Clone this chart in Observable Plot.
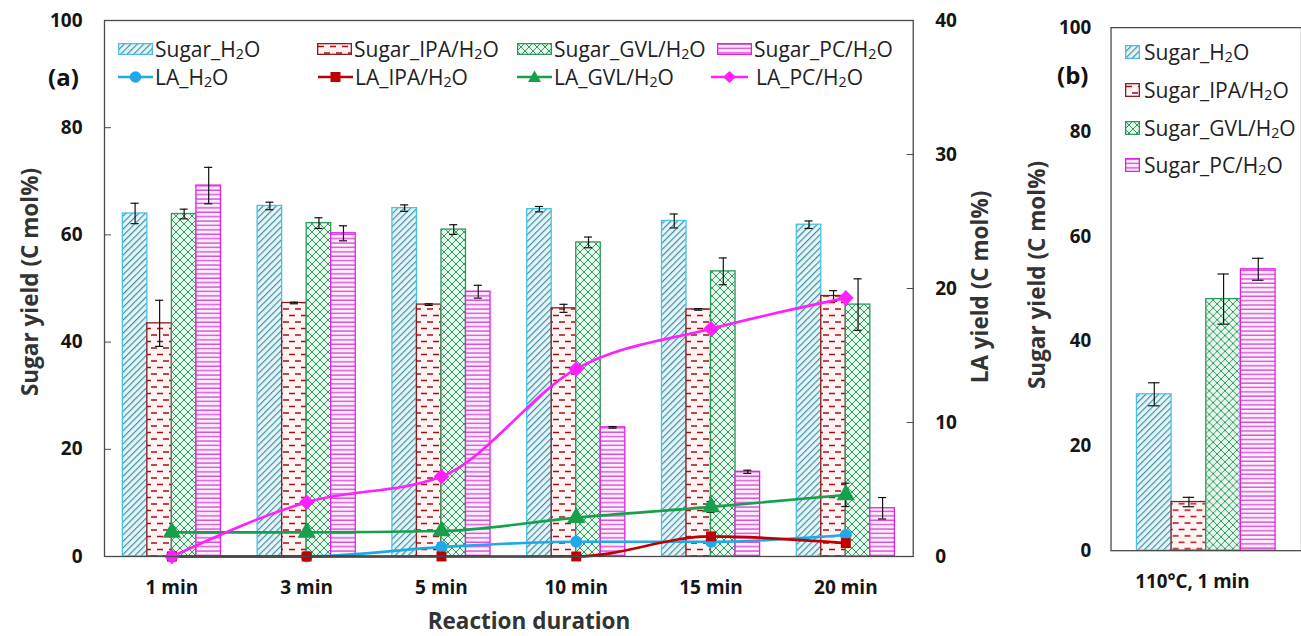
<!DOCTYPE html>
<html>
<head>
<meta charset="utf-8">
<script src="https://cdn.jsdelivr.net/npm/d3@7"></script>
<script src="https://cdn.jsdelivr.net/npm/@observablehq/plot@0.6"></script>
<style>
  html, body { margin: 0; padding: 0; background: #fff; }
  body { width: 1301px; height: 636px; overflow: hidden; position: relative; font-family: "Open Sans", sans-serif; }
  .abs { position: absolute; }
  .title { font-weight: bold; font-size: 22.5px; color: #333; white-space: nowrap; line-height: 24px; }
  .rot { transform: translate(-50%, -50%) rotate(-90deg); }
  .panel { font-weight: bold; font-size: 24px; color: #111; line-height: 30px; }
  .leg { font-size: 21px; color: #222; line-height: 28px; white-space: nowrap; }
  .leg sub { font-size: 0.68em; vertical-align: -0.15em; line-height: 0; }
</style>
</head>
<body>
<!-- fill patterns shared by the bars and the legend swatches -->
<svg width="0" height="0" style="position:absolute">
  <defs>
    <pattern id="fillH2O" patternUnits="userSpaceOnUse" width="4.6" height="4.6" patternTransform="rotate(45)">
      <rect width="4.6" height="4.6" fill="#e4f6fb"/>
      <line x1="0.6" y1="0" x2="0.6" y2="4.6" stroke="#3a8796" stroke-width="1.1"/>
    </pattern>
    <pattern id="fillIPA" patternUnits="userSpaceOnUse" width="12" height="13">
      <rect width="12" height="13" fill="#fff3f3"/>
      <path d="M1,3.5h6M7,10h6M-5,10h6" stroke="#a31212" stroke-width="1.4"/>
    </pattern>
    <pattern id="fillGVL" patternUnits="userSpaceOnUse" width="8" height="8">
      <rect width="8" height="8" fill="#e7f7ed"/>
      <path d="M0,0L8,8M8,0L0,8" stroke="#2f9a5c" stroke-width="1"/>
    </pattern>
    <pattern id="fillPC" patternUnits="userSpaceOnUse" width="4" height="4.4">
      <rect width="4" height="4.4" fill="#fdf1fd"/>
      <line x1="0" y1="1" x2="4" y2="1" stroke="#d11fd1" stroke-width="1.1"/>
    </pattern>
  </defs>
</svg>

<div id="chartA" class="abs" style="left:0;top:0"></div>
<div id="chartB" class="abs" style="left:1000px;top:0"></div>

<div class="abs panel" style="left:48px;top:62px">(a)</div>
<div class="abs panel" style="left:1057px;top:60px">(b)</div>
<div class="abs title rot" style="left:30px;top:282px">Sugar yield (C mol%)</div>
<div class="abs title rot" style="left:980px;top:287px">LA yield (C mol%)</div>
<div class="abs title rot" style="left:1037px;top:275px">Sugar yield (C mol%)</div>
<div class="abs title" style="left:529px;top:609px;transform:translateX(-50%)">Reaction duration</div>

<div id="legendA"></div>
<div id="legendB"></div>

<script>
// Reaction durations (panel a) and the single condition of panel b
const durations = ["1 min", "3 min", "5 min", "10 min", "15 min", "20 min"];
const conditionB = ["110°C, 1 min"];
const solvents = ["H2O", "IPA/H2O", "GVL/H2O", "PC/H2O"];

// Sugar yield, C mol% (left axis), with error bars
const sugarH2O = [64.0, 65.4, 65.0, 64.8, 62.6, 61.9];
const sugarIPA = [43.5, 47.3, 47.0, 46.3, 46.1, 48.6];
const sugarGVL = [63.9, 62.2, 61.0, 58.6, 53.2, 47.0];
const sugarPC  = [69.2, 60.3, 49.4, 24.1, 15.8, 9.0];
const errH2O = [1.9, 0.7, 0.6, 0.5, 1.3, 0.7];
const errIPA = [4.3, 0.15, 0.15, 0.75, 0.15, 1.0];
const errGVL = [0.9, 1.0, 0.9, 1.0, 2.5, 4.8];
const errPC  = [3.4, 1.4, 1.2, 0.15, 0.3, 2.0];

// LA yield, C mol% (right axis)
const laH2O = [0, 0, 0.7, 1.1, 1.1, 1.6];
const laIPA = [0, 0, 0, 0, 1.5, 1.0];
const laGVL = [1.8, 1.8, 1.9, 2.9, 3.7, 4.6];
const laPC  = [0, 4.05, 5.97, 14.0, 17.0, 19.3];
const laErrGVL = [0, 0, 0, 0, 0.4, 0.87];
const laErrH2O = [0, 0, 0.3, 0, 0, 0];

// Panel b: sugar yield at 110 °C, 1 min
const sugarB = [29.9, 9.3, 48.1, 53.8];
const errB   = [2.2, 0.9, 4.8, 2.1];

// Axis ticks
const sugarTicks = [0, 20, 40, 60, 80, 100];
const laTicks = [0, 10, 20, 30, 40];

// styling per solvent
const barFill   = ["url(#fillH2O)", "url(#fillIPA)", "url(#fillGVL)", "url(#fillPC)"];
const barStroke = ["#48c2e4", "#8e1b1b", "#2e9b5c", "#e21fe2"];
const lineColor = ["#1fa9e8", "#c00000", "#17a04c", "#ff1fff"];
const symbols   = ["circle", "square", "triangle", "diamond2"];
const symbolR   = [6, 5.6, 6.8, 7];

const sugarA = [sugarH2O, sugarIPA, sugarGVL, sugarPC];
const errA = [errH2O, errIPA, errGVL, errPC];
const laA = [laH2O, laIPA, laGVL, laPC];
const laErrA = [laErrH2O, [0, 0, 0, 0, 0, 0], laErrGVL, [0, 0, 0, 0, 0, 0]];

const LA_MAX = 40, SUGAR_MAX = 100;
const k = SUGAR_MAX / LA_MAX;   // LA values share the sugar y scale
const bw = 0.182;               // bar width in category units
const cap = 0.03;               // error bar cap half width

const bars = [];
durations.forEach((d, i) => solvents.forEach((s, j) => {
  bars.push({i, j, v: sugarA[j][i], e: errA[j][i], c: i + (j - 1.5) * bw});
}));
const laRows = solvents.map((s, j) => durations.map((d, i) => ({i, j, v: laA[j][i] * k, e: laErrA[j][i] * k})));
const laErrRows = laRows.flat().filter(d => d.e > 0);

const baseStyle = {fontFamily: "'Open Sans', sans-serif", fontSize: "19px", fontWeight: "bold", color: "#151515", background: "transparent", overflow: "visible"};

function errorBars(data, xf) {
  return [
    Plot.ruleX(data, {x: xf, y1: d => d.v - d.e, y2: d => d.v + d.e, stroke: "#111", strokeWidth: 1.2}),
    Plot.ruleY(data, {y: d => d.v + d.e, x1: d => xf(d) - cap, x2: d => xf(d) + cap, stroke: "#111", strokeWidth: 1.2}),
    Plot.ruleY(data, {y: d => d.v - d.e, x1: d => xf(d) - cap, x2: d => xf(d) + cap, stroke: "#111", strokeWidth: 1.2})
  ];
}

const chartA = Plot.plot({
  width: 1000, height: 636,
  marginLeft: 104, marginRight: 87.3, marginTop: 20, marginBottom: 80,
  x: {domain: [-0.5, durations.length - 0.5]},
  y: {domain: [0, SUGAR_MAX]},
  style: baseStyle,
  marks: [
    Plot.rect(bars, {x1: d => d.c - bw / 2, x2: d => d.c + bw / 2, y1: 0, y2: "v",
      fill: d => barFill[d.j], stroke: d => barStroke[d.j], strokeWidth: 1.3}),
    ...errorBars(bars, d => d.c),
    ...laRows.flatMap((rows, j) => [
      Plot.line(rows, {x: "i", y: "v", stroke: lineColor[j], strokeWidth: 2.6, curve: "monotone-x"}),
      ...errorBars(laErrRows.filter(d => d.j === j), d => d.i),
      Plot.dot(rows, {x: "i", y: "v", symbol: symbols[j], r: symbolR[j], fill: lineColor[j], stroke: "none"})
    ]),
    Plot.frame({stroke: "#4a4a4a", strokeWidth: 1.3}),
    Plot.axisX({ticks: d3.range(durations.length), tickFormat: i => durations[i], tickSize: 0, tickPadding: 24, label: null}),
    Plot.axisY({ticks: sugarTicks, tickSize: -7, tickPadding: 29, label: null, stroke: "#4a4a4a"}),
    Plot.axisY({anchor: "right", ticks: laTicks.map(t => t * k), tickFormat: t => t / k, tickSize: -7, tickPadding: 29, label: null, stroke: "#4a4a4a"})
  ]
});
document.getElementById("chartA").append(chartA);

const barsB = sugarB.map((v, j) => ({j, v, e: errB[j], c: (j - 1.5) * bw}));
const chartB = Plot.plot({
  width: 305, height: 636,
  marginLeft: 112, marginRight: 0, marginTop: 27.5, marginBottom: 78.5,
  x: {domain: [-0.5, 0.5]},
  y: {domain: [0, SUGAR_MAX]},
  style: baseStyle,
  marks: [
    Plot.rect(barsB, {x1: d => d.c - bw / 2, x2: d => d.c + bw / 2, y1: 0, y2: "v",
      fill: d => barFill[d.j], stroke: d => barStroke[d.j], strokeWidth: 1.3}),
    ...errorBars(barsB, d => d.c),
    Plot.frame({stroke: "#4a4a4a", strokeWidth: 1.3}),
    Plot.axisX({ticks: [0], tickFormat: () => conditionB[0], tickSize: 0, tickPadding: 24, dx: -14, label: null}),
    Plot.axisY({ticks: sugarTicks, tickSize: 0, tickPadding: 20, label: null})
  ]
});
document.getElementById("chartB").append(chartB);

// Legends (HTML text with small SVG swatches)
function labelHTML(prefix, solvent) {
  return prefix + "_" + solvent.replace("H2O", "H<sub>2</sub>O");
}
function swatchSVG(j, w, h) {
  return `<svg width="${w}" height="${h}" style="display:block"><rect x="0.65" y="0.65" width="${w - 1.3}" height="${h - 1.3}" fill="${barFill[j]}" stroke="${barStroke[j]}" stroke-width="1.3"/></svg>`;
}
function lineSwatchSVG(j, w) {
  const h = 16, m = w / 2;
  let marker;
  if (symbols[j] === "circle") marker = `<circle cx="${m}" cy="8" r="5.8" fill="${lineColor[j]}"/>`;
  else if (symbols[j] === "square") marker = `<rect x="${m - 5}" y="3" width="10" height="10" fill="${lineColor[j]}"/>`;
  else if (symbols[j] === "triangle") marker = `<path d="M${m},1.5L${m + 6.5},13L${m - 6.5},13Z" fill="${lineColor[j]}"/>`;
  else marker = `<path d="M${m},2L${m + 6.5},8L${m},14L${m - 6.5},8Z" fill="${lineColor[j]}"/>`;
  return `<svg width="${w}" height="${h}" style="display:block"><line x1="0" y1="8" x2="${w}" y2="8" stroke="${lineColor[j]}" stroke-width="2.6"/>${marker}</svg>`;
}

const legA = document.getElementById("legendA");
const colA = [118, 317, 517, 717];
const lineColA = [118, 318, 517, 711];
solvents.forEach((s, j) => {
  legA.insertAdjacentHTML("beforeend",
    `<div class="abs" style="left:${colA[j]}px;top:43px">${swatchSVG(j, 35, 12)}</div>` +
    `<div class="abs leg" style="left:${colA[j] + 37}px;top:34.5px">${labelHTML("Sugar", s)}</div>` +
    `<div class="abs" style="left:${lineColA[j]}px;top:69px">${lineSwatchSVG(j, j === 3 ? 37 : 35)}</div>` +
    `<div class="abs leg" style="left:${lineColA[j] + (j === 3 ? 45 : 37)}px;top:62.5px">${labelHTML("LA", s)}</div>`);
});

const legB = document.getElementById("legendB");
const rowB = [52, 90, 128, 165];
solvents.forEach((s, j) => {
  legB.insertAdjacentHTML("beforeend",
    `<div class="abs" style="left:1125px;top:${rowB[j] - 7}px">${swatchSVG(j, 15, 14)}</div>` +
    `<div class="abs leg" style="left:1144px;top:${rowB[j] - 14.5}px">${labelHTML("Sugar", s)}</div>`);
});
</script>
</body>
</html>
